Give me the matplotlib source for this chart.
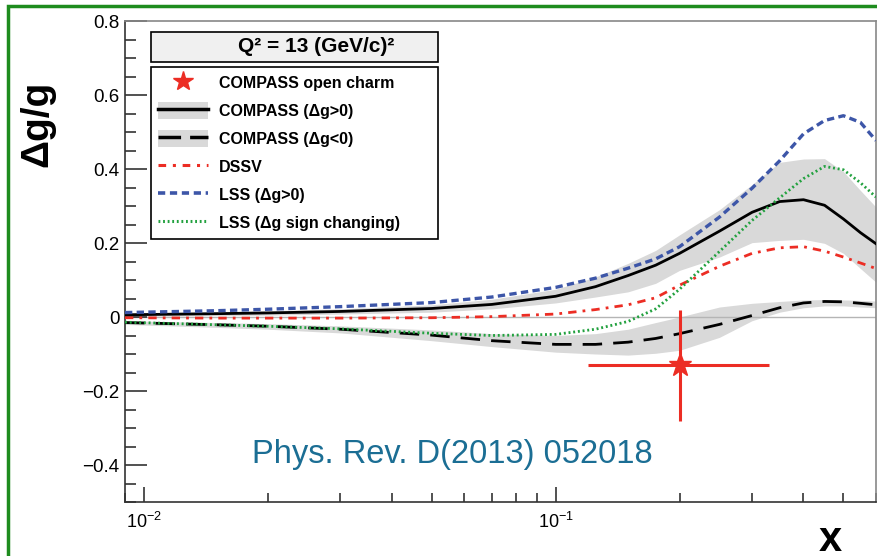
import matplotlib
matplotlib.use("Agg")
import matplotlib.pyplot as plt
from matplotlib.lines import Line2D
from matplotlib.patches import Patch, Rectangle
from matplotlib.legend_handler import HandlerTuple
from matplotlib.ticker import FixedLocator, FixedFormatter, MultipleLocator, LogLocator, NullFormatter

plt.rcParams['font.family'] = ['Liberation Sans', 'DejaVu Sans']
plt.rcParams['mathtext.fontset'] = 'custom'
plt.rcParams['mathtext.rm'] = 'Liberation Sans'
plt.rcParams['mathtext.it'] = 'Liberation Sans:italic'
plt.rcParams['mathtext.bf'] = 'Liberation Sans:bold'

# ---------------- data ----------------
x_grid = [0.009, 0.015, 0.02, 0.03, 0.05, 0.07, 0.1, 0.125, 0.15, 0.175,
          0.2, 0.25, 0.3, 0.35, 0.4, 0.45, 0.5, 0.55, 0.6]

compass_pos = [0.006, 0.009, 0.011, 0.015, 0.023, 0.034, 0.056, 0.082, 0.112, 0.14,
               0.172, 0.232, 0.283, 0.312, 0.317, 0.302, 0.265, 0.228, 0.198]
compass_pos_hi = [0.010, 0.014, 0.017, 0.022, 0.033, 0.048, 0.075, 0.108, 0.145, 0.18,
                  0.222, 0.29, 0.358, 0.418, 0.427, 0.428, 0.393, 0.342, 0.297]
compass_pos_lo = [0.002, 0.004, 0.005, 0.008, 0.013, 0.022, 0.038, 0.054, 0.068, 0.091,
                  0.126, 0.162, 0.201, 0.207, 0.21, 0.199, 0.172, 0.131, 0.094]

compass_neg = [-0.015, -0.021, -0.025, -0.033, -0.049, -0.064, -0.074, -0.074, -0.068, -0.058,
               -0.045, -0.02, 0.004, 0.025, 0.038, 0.042, 0.041, 0.037, 0.033]
compass_neg_hi = [-0.010, -0.015, -0.018, -0.024, -0.035, -0.045, -0.050, -0.045, -0.033, -0.015,
                  0.0, 0.027, 0.037, 0.042, 0.046, 0.047, 0.046, 0.045, 0.043]
compass_neg_lo = [-0.020, -0.028, -0.033, -0.043, -0.064, -0.080, -0.095, -0.100, -0.103, -0.098,
                  -0.090, -0.055, -0.010, 0.013, 0.025, 0.030, 0.030, 0.027, 0.025]

dssv = [-0.002, -0.003, -0.003, -0.003, -0.002, 0.001, 0.008, 0.02, 0.033, 0.052,
        0.086, 0.137, 0.172, 0.187, 0.19, 0.178, 0.162, 0.146, 0.131]

lss_pos = [0.012, 0.017, 0.021, 0.028, 0.039, 0.054, 0.08, 0.105, 0.132, 0.157,
           0.19, 0.27, 0.348, 0.422, 0.495, 0.531, 0.544, 0.526, 0.477]

lss_sign = [-0.014, -0.021, -0.025, -0.032, -0.044, -0.050, -0.047, -0.033, -0.012, 0.022,
            0.075, 0.177, 0.261, 0.322, 0.374, 0.407, 0.398, 0.363, 0.324]

oc_x = [0.2]
oc_y = [-0.13]
oc_xerr_lo = [0.08]
oc_xerr_hi = [0.13]
oc_yerr = [0.15]

y_ticks = [-0.4, -0.2, 0.0, 0.2, 0.4, 0.6, 0.8]
y_ticklabels = ["\u22120.4", "\u22120.2", "0", "0.2", "0.4", "0.6", "0.8"]

legend_labels = ["COMPASS open charm", "COMPASS (\u0394g>0)", "COMPASS (\u0394g<0)",
                 "DSSV", "LSS (\u0394g>0)", "LSS (\u0394g sign changing)"]

# ---------------- style ----------------
RED = '#ec2d24'
BLUE = '#3d56a8'
GREEN = '#22a13f'
BAND = '#d9d9d9'
TEAL = '#1b6e94'

W, H = 878, 556
fig = plt.figure(figsize=(W / 100, H / 100), dpi=100)
ax = fig.add_axes([125 / W, 54 / H, 751 / W, 481 / H])
ax.set_xscale('log')
ax.set_xlim(0.009, 0.6)
ax.set_ylim(-0.5, 0.8)

ax.fill_between(x_grid, compass_pos_lo, compass_pos_hi, color=BAND, lw=0, zorder=1)
ax.fill_between(x_grid, compass_neg_lo, compass_neg_hi, color=BAND, lw=0, zorder=1)
ax.axhline(0, color='#b5b5b5', lw=1, zorder=1.5)

ax.plot(x_grid, compass_pos, color='black', lw=2, zorder=3)
ax.plot(x_grid, compass_neg, color='black', lw=2, ls=(0, (7, 4)), zorder=3)
ax.plot(x_grid, dssv, color=RED, lw=2, ls=(0, (3, 2.2, 1, 2.2)), zorder=3)
ax.plot(x_grid, lss_pos, color=BLUE, lw=2.4, ls=(0, (2.2, 1.3)), zorder=3)
ax.plot(x_grid, lss_sign, color=GREEN, lw=2.0, ls=(0, (0.7, 1.0)), zorder=3)

ax.errorbar(oc_x, oc_y, xerr=[oc_xerr_lo, oc_xerr_hi], yerr=oc_yerr,
            fmt='*', color=RED, ecolor=RED, elinewidth=2.2, markersize=17,
            capsize=0, zorder=5)

ax.text(0.01828, -0.395, "Phys. Rev. D(2013) 052018", color=TEAL,
        fontsize=23.5, ha='left', va='baseline')

# axes styling
for s in ['left', 'bottom']:
    ax.spines[s].set_color('#333333')
    ax.spines[s].set_linewidth(1.2)
for s in ['top', 'right']:
    ax.spines[s].set_color('#888888')
    ax.spines[s].set_linewidth(1.2)

ax.yaxis.set_major_locator(FixedLocator(y_ticks))
ax.yaxis.set_major_formatter(FixedFormatter(y_ticklabels))
ax.yaxis.set_minor_locator(MultipleLocator(0.05))
ax.xaxis.set_major_locator(LogLocator(base=10))
ax.xaxis.set_minor_locator(LogLocator(base=10, subs=range(2, 10)))
ax.xaxis.set_minor_formatter(NullFormatter())

ax.tick_params(axis='y', which='major', direction='in', length=16, width=1.2,
               color='#333333', labelsize=13.5, pad=4, left=True, right=False)
ax.tick_params(axis='y', which='minor', direction='in', length=8, width=1.2,
               color='#333333', left=True, right=False)
ax.tick_params(axis='x', which='major', direction='in', length=11, width=1.2,
               color='#333333', labelsize=13, pad=7, bottom=True, top=False)
ax.tick_params(axis='x', which='minor', direction='in', length=6.5, width=1.2,
               color='#333333', bottom=True, top=False)

ax.set_ylabel("\u0394g/g", fontsize=28, fontweight='bold')
ax.yaxis.set_label_coords((37 - 125) / 751, (502 - 124) / 481)
ax.yaxis.label.set_va('center')
ax.set_xlabel("x", fontsize=30, fontweight='bold')
ax.xaxis.set_label_coords((830 - 125) / 751, (502 - 551) / 481)
ax.xaxis.label.set_va('baseline')

# legend
h_star = Line2D([], [], marker='*', color=RED, ls='none', markersize=15)
h_pos = (Patch(facecolor=BAND, edgecolor='none'), Line2D([], [], color='black', lw=2.5))
h_neg = (Patch(facecolor=BAND, edgecolor='none'), Line2D([], [], color='black', lw=2.5, ls=(0, (6.5, 2.6))))
h_dssv = Line2D([], [], color=RED, lw=2.2, ls=(0, (2.5, 2.2, 1, 2.2)))
h_lss = Line2D([], [], color=BLUE, lw=2.6, ls=(0, (2.0, 1.3)))
h_lsss = Line2D([], [], color=GREEN, lw=2.2, ls=(0, (0.6, 0.9)))

leg = ax.legend([h_star, h_pos, h_neg, h_dssv, h_lss, h_lsss], legend_labels,
                handler_map={tuple: HandlerTuple(ndivide=1, pad=0)},
                loc='upper left', bbox_to_anchor=(151 / W, 1 - 239 / H, 287 / W, (239 - 67) / H),
                bbox_transform=fig.transFigure, mode='expand', borderaxespad=0,
                prop={'weight': 'bold', 'size': 11.5}, frameon=True, fancybox=False,
                edgecolor='black', framealpha=1, handlelength=3.1, handleheight=1.25,
                handletextpad=0.7, labelspacing=0.7, borderpad=0.45)
leg.get_frame().set_linewidth(1.2)
leg.set_zorder(10)

# title box
fig.add_artist(Rectangle((151 / W, 1 - 62 / H), 287 / W, 30 / H, transform=fig.transFigure,
                         facecolor='#f0f0f0', edgecolor='black', lw=1.2))
fig.text(316 / W, 1 - 47 / H, "Q\u00b2 = 13 (GeV/c)\u00b2", fontsize=15, fontweight='bold',
         ha='center', va='center')

# green page frame
fig.add_artist(Rectangle((8 / W, -0.05), 1.0, 1 - 6 / H + 0.05, transform=fig.transFigure,
                         fill=False, edgecolor='#1e8c1e', lw=2.5, clip_on=False))

fig.savefig('out.png', dpi=100)
